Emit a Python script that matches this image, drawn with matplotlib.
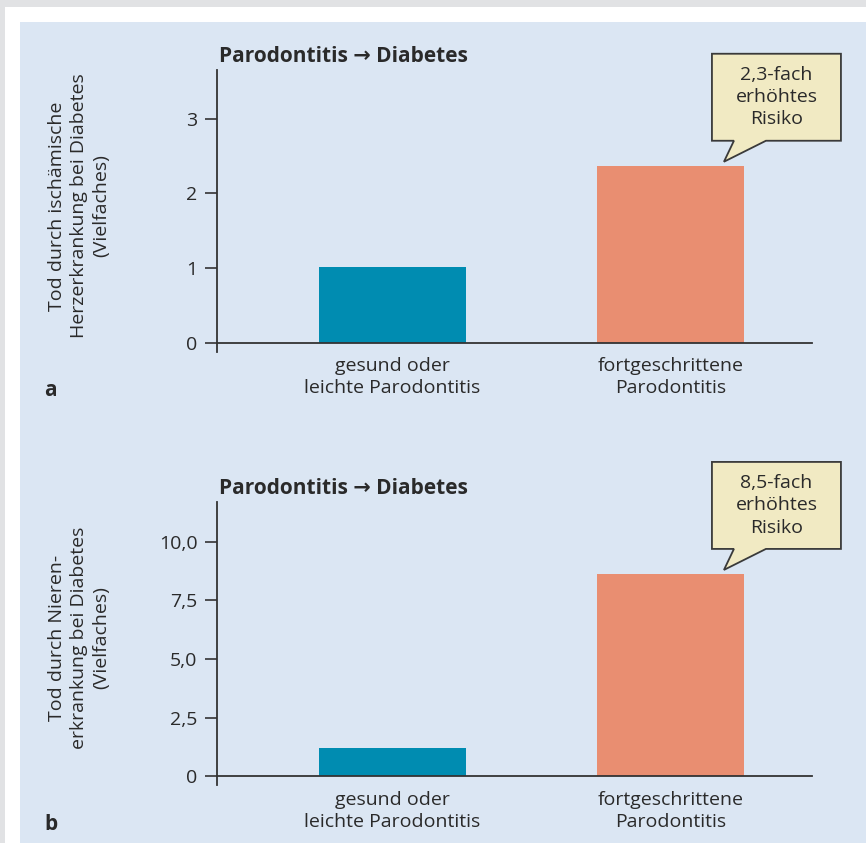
import matplotlib
matplotlib.use("Agg")
import matplotlib.pyplot as plt
from matplotlib.patches import Polygon, Rectangle
from matplotlib.transforms import IdentityTransform

plt.rcParams["font.family"] = ["Open Sans", "DejaVu Sans"]

W, H, DPI = 866, 843, 100

categories = ["gesund oder\nleichte Parodontitis", "fortgeschrittene\nParodontitis"]
title = "Parodontitis \u2192 Diabetes"

values_a = [1.02, 2.37]
yticks_a = [0, 1, 2, 3]
yticklabels_a = ["0", "1", "2", "3"]
ylabel_a = "Tod durch ischämische\nHerzerkrankung bei Diabetes\n(Vielfaches)"
callout_a = "2,3-fach\nerhöhtes\nRisiko"

values_b = [1.2, 8.63]
yticks_b = [0, 2.5, 5.0, 7.5, 10.0]
yticklabels_b = ["0", "2,5", "5,0", "7,5", "10,0"]
ylabel_b = "Tod durch Nieren-\nerkrankung bei Diabetes\n(Vielfaches)"
callout_b = "8,5-fach\nerhöhtes\nRisiko"

BAR_COLORS = ["#008cb1", "#e98e71"]
TEXT = "#2a2a2a"
PANEL_BG = "#dbe6f3"
FS = 14

fig = plt.figure(figsize=(W / DPI, H / DPI), dpi=DPI)
fig.patch.set_facecolor("#e1e2e4")
# white frame and blue panel
fig.add_artist(Rectangle((5 / W, 0), 1, 1 - 7 / H, transform=fig.transFigure,
                         facecolor="white", edgecolor="none", zorder=0))
fig.add_artist(Rectangle((20 / W, 0), 1, 1 - 22 / H, transform=fig.transFigure,
                         facecolor=PANEL_BG, edgecolor="none", zorder=0))


def px_axes(left, top, right, bottom):
    return fig.add_axes([left / W, 1 - bottom / H, (right - left) / W, (bottom - top) / H])


def draw_panel(ax, values, yticks, yticklabels, ymax, ymin, ylabel_txt, ylabel_y,
               title_y, cat_top, letter, letter_y, callout_txt):
    ax.set_facecolor("none")
    x = [0, 1]
    ax.bar(x, values, width=0.529, color=BAR_COLORS, zorder=2)
    ax.set_xlim(-0.631, 1.509)
    ax.set_ylim(ymin, ymax)
    for s in ["top", "right"]:
        ax.spines[s].set_visible(False)
    ax.spines["bottom"].set_position(("data", 0))
    for s in ["left", "bottom"]:
        ax.spines[s].set_color("#333333")
        ax.spines[s].set_linewidth(1.3)
        ax.spines[s].set_zorder(3)
    ax.set_xticks([])
    ax.set_yticks(yticks)
    ax.set_yticklabels(yticklabels)
    ax.tick_params(axis="y", length=9, width=1.2, color="#333333",
                   labelsize=FS, labelcolor=TEXT, pad=5)

    # category labels
    for xi, lab in zip(x, categories):
        xd = ax.transData.transform((xi, 0))[0]
        fig.text(xd / W, 1 - cat_top / H, lab, ha="center", va="top",
                 fontsize=FS, color=TEXT, linespacing=1.3)

    fig.text(79 / W, 1 - ylabel_y / H, ylabel_txt, rotation=90, ha="center",
             va="center", fontsize=FS, color=TEXT, linespacing=1.3)
    fig.text(219 / W, 1 - title_y / H, title, ha="left", va="center",
             fontsize=15, fontweight="bold", color=TEXT)
    fig.text(44 / W, 1 - letter_y / H, letter, ha="left", va="center",
             fontsize=15, fontweight="bold", color=TEXT)

    # speech-bubble callout pointing at the second bar
    bar_left = 1 - 0.529 / 2
    tx, ty = ax.transData.transform((bar_left, values[1]))
    tx += 127
    ty += 4
    verts = [(tx, ty), (tx + 10, ty + 21), (tx - 12, ty + 21), (tx - 12, ty + 108),
             (tx + 117, ty + 108), (tx + 117, ty + 21), (tx + 42, ty + 21)]
    fig.add_artist(Polygon(verts, closed=True, transform=IdentityTransform(),
                           facecolor="#f1eac3", edgecolor="#3a3a3a", linewidth=1.3,
                           zorder=5))
    fig.text((tx + 52.5) / W, (ty + 64.5) / H, callout_txt, ha="center", va="center",
             fontsize=FS, color=TEXT, linespacing=1.3, zorder=6)


ax_a = px_axes(217, 70, 812, 352)
draw_panel(ax_a, values_a, yticks_a, yticklabels_a, 3.65, -0.12, ylabel_a, 206,
           57, 357, "a", 390, callout_a)

ax_b = px_axes(217, 502, 812, 785)
draw_panel(ax_b, values_b, yticks_b, yticklabels_b, 11.7, -0.38, ylabel_b, 638,
           488, 791, "b", 825, callout_b)

fig.savefig("out.png", dpi=DPI, facecolor=fig.get_facecolor())
